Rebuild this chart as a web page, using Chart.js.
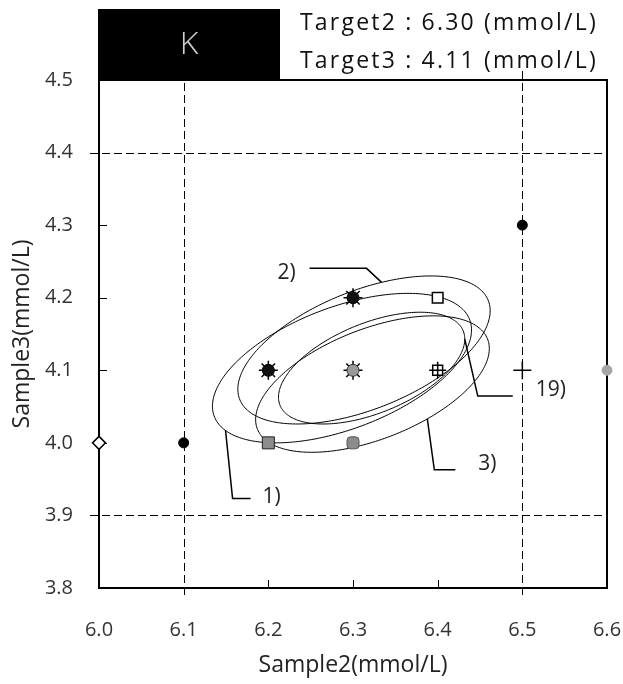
<!DOCTYPE html>
<html>
<head>
<meta charset="utf-8">
<script src="https://cdn.jsdelivr.net/npm/chart.js@4.4.1/dist/chart.umd.min.js"></script>
<style>
  html, body { margin: 0; padding: 0; background: #fff; }
  #wrap { width: 623px; height: 684px; }
</style>
</head>
<body>
<div id="wrap"><canvas id="youdenChart" width="623" height="684"></canvas></div>
<script>
// analyte and targets
const analyte = "K";
const targetNames = ["Target2", "Target3"];
const targetValues = [6.30, 4.11];
const unit = "(mmol/L)";

// axis ticks
const xTickValues = [6.0, 6.1, 6.2, 6.3, 6.4, 6.5, 6.6];
const yTickValues = [3.8, 3.9, 4.0, 4.1, 4.2, 4.3, 4.4, 4.5];
const dashedX = [6.1, 6.5];
const dashedY = [4.4, 3.9];
const innerTickX = [6.2, 6.3, 6.4];
const innerTickY = [4.0, 4.1, 4.2, 4.3];

// lab results (sample2 vs sample3)
const labSample2 = [6.0, 6.1, 6.5, 6.6, 6.5, 6.2, 6.3, 6.3, 6.4, 6.4, 6.2, 6.3];
const labSample3 = [4.0, 4.0, 4.3, 4.1, 4.1, 4.1, 4.2, 4.1, 4.2, 4.1, 4.0, 4.0];
const labSymbol = ["diamond", "dot", "dot", "greyDot", "plus", "burst", "burst",
                   "greyBurst", "square", "hashSquare", "greySquare", "greyRound"];

// confidence ellipses (centre, spread, correlation)
const ellipseNames = ["1)", "2)", "3)", "19)"];
const ellipseCx = [6.287, 6.313, 6.323, 6.322];
const ellipseCy = [4.103, 4.128, 4.081, 4.103];
const ellipseSx = [0.153, 0.149, 0.138, 0.110];
const ellipseSy = [0.103, 0.102, 0.094, 0.077];
const ellipseR  = [0.51, 0.53, 0.52, 0.52];

(function () {
  const FONT = "'Open Sans', 'DejaVu Sans', sans-serif";

  // marker look per symbol; later layers are drawn on top
  const symbolLayers = {
    diamond:    [{ ps: "rectRot", r: 6.5, bg: "#fff", bc: "#000", bw: 1.5 }],
    dot:        [{ ps: "circle", r: 5, bg: "#000", bc: "#000", bw: 1 }],
    greyDot:    [{ ps: "circle", r: 5, bg: "#a5a5a5", bc: "#a5a5a5", bw: 1 }],
    plus:       [{ ps: "cross", r: 9, bg: "#000", bc: "#000", bw: 1.5 }],
    burst:      [{ ps: "star", r: 9.5, bg: "#000", bc: "#000", bw: 1.5 },
                 { ps: "circle", r: 6, bg: "#111", bc: "#000", bw: 1 }],
    greyBurst:  [{ ps: "star", r: 9.5, bg: "#000", bc: "#000", bw: 1.5 },
                 { ps: "circle", r: 6, bg: "#999", bc: "#333", bw: 1 }],
    square:     [{ ps: "rect", r: 7.5, bg: "#fff", bc: "#000", bw: 1.5 }],
    hashSquare: [{ ps: "rect", r: 7, bg: "#fff", bc: "#000", bw: 1.5 },
                 { ps: "cross", r: 8.5, bg: "#000", bc: "#000", bw: 1.5 }],
    greySquare: [{ ps: "rect", r: 8.5, bg: "#8c8c8c", bc: "#222", bw: 1 }],
    greyRound:  [{ ps: "rectRounded", r: 7, bg: "#8c8c8c", bc: "#555", bw: 1 }],
  };

  // where each ellipse's caption leader starts (angle on ellipse) and bends (px)
  const leaderLayout = [
    { t: 206, bend: [7, 68], end: [25, 68], text: [46, 66] },
    { t: 82, bend: [-15, -14], end: [-72, -14], text: [-95, -9] },
    { t: 298, bend: [7, 51], end: [28, 51], text: [60, 45] },
    { t: 0, bend: [13, 57], end: [48, 57], text: [86, 51] },
  ];

  function buildDatasets() {
    const sets = [];
    Object.keys(symbolLayers).forEach((sym) => {
      const pts = [];
      labSymbol.forEach((s, i) => {
        if (s === sym) pts.push({ x: labSample2[i], y: labSample3[i] });
      });
      symbolLayers[sym].forEach((l, li) => {
        sets.push({
          data: pts,
          showLine: false,
          pointStyle: l.ps,
          pointRadius: l.r,
          pointBackgroundColor: l.bg,
          pointBorderColor: l.bc,
          pointBorderWidth: l.bw,
          clip: false,
          order: 5 - li,
        });
      });
    });
    return sets;
  }

  function ellipsePoint(i, deg) {
    const t = (deg * Math.PI) / 180;
    const r = ellipseR[i];
    return {
      x: ellipseCx[i] + ellipseSx[i] * Math.cos(t),
      y: ellipseCy[i] + ellipseSy[i] * (r * Math.cos(t) + Math.sqrt(1 - r * r) * Math.sin(t)),
    };
  }

  const youdenDecor = {
    id: "youdenDecor",
    beforeDatasetsDraw(chart) {
      const { ctx, chartArea: a, scales } = chart;
      const xs = scales.x, ys = scales.y;
      const line = (x1, y1, x2, y2) => {
        ctx.beginPath(); ctx.moveTo(x1, y1); ctx.lineTo(x2, y2); ctx.stroke();
      };
      ctx.save();
      ctx.strokeStyle = "#000";
      ctx.lineWidth = 1;
      ctx.setLineDash([8, 4]);
      dashedX.forEach((v) => {
        const px = Math.round(xs.getPixelForValue(v)) + 0.5;
        line(px, a.top - 9, px, a.bottom + 9);
      });
      dashedY.forEach((v) => {
        const py = Math.round(ys.getPixelForValue(v)) + 0.5;
        line(a.left - 9, py, a.right, py);
      });
      ctx.setLineDash([]);
      innerTickX.forEach((v) => {
        const px = Math.round(xs.getPixelForValue(v)) + 0.5;
        line(px, a.bottom, px, a.bottom - 8);
      });
      innerTickY.forEach((v) => {
        const py = Math.round(ys.getPixelForValue(v)) + 0.5;
        line(a.left, py, a.left + 8, py);
      });
      ctx.lineWidth = 2;
      ctx.strokeRect(a.left, a.top, a.right - a.left, a.bottom - a.top);

      // header box + targets
      ctx.fillStyle = "#000";
      ctx.fillRect(a.left - 1, 9, 182, a.top - 9);
      ctx.fillStyle = "#d0d0d0";
      ctx.font = "300 32px " + FONT;
      ctx.textAlign = "center";
      ctx.textBaseline = "middle";
      ctx.fillText(analyte, a.left + 90, 45);
      ctx.fillStyle = "#111";
      ctx.font = "23px " + FONT;
      ctx.textAlign = "left";
      ctx.letterSpacing = "2.2px";
      targetNames.forEach((n, i) => {
        ctx.fillText(n + " : " + targetValues[i].toFixed(2) + " " + unit, 300, 23 + i * 38);
      });
      ctx.letterSpacing = "0px";

      // ellipses
      ctx.lineWidth = 1;
      ctx.strokeStyle = "#000";
      ellipseNames.forEach((name, i) => {
        ctx.beginPath();
        for (let k = 0; k <= 240; k++) {
          const p = ellipsePoint(i, (k / 240) * 360);
          const px = xs.getPixelForValue(p.x), py = ys.getPixelForValue(p.y);
          if (k === 0) ctx.moveTo(px, py); else ctx.lineTo(px, py);
        }
        ctx.closePath();
        ctx.stroke();

        const lay = leaderLayout[i];
        const p = ellipsePoint(i, lay.t);
        const ax = xs.getPixelForValue(p.x), ay = ys.getPixelForValue(p.y);
        ctx.lineWidth = 1.5;
        ctx.beginPath();
        ctx.moveTo(ax, ay);
        ctx.lineTo(ax + lay.bend[0], ay + lay.bend[1]);
        ctx.lineTo(ax + lay.end[0], ay + lay.end[1]);
        ctx.stroke();
        ctx.lineWidth = 1;
        ctx.fillStyle = "#222";
        ctx.font = "21px " + FONT;
        ctx.textAlign = "center";
        ctx.fillText(name, ax + lay.text[0], ay + lay.text[1]);
      });
      ctx.restore();
    },
  };

  function initChart() {
    const tickFont = { family: FONT, size: 20 };
    const titleFont = { family: FONT, size: 23 };
    new Chart(document.getElementById("youdenChart"), {
      type: "scatter",
      data: { datasets: buildDatasets() },
      options: {
        responsive: false,
        animation: false,
        events: [],
        layout: { autoPadding: false, padding: { top: 80, right: 16, left: 0, bottom: 0 } },
        plugins: { legend: { display: false }, tooltip: { enabled: false } },
        scales: {
          x: {
            type: "linear",
            min: 6.0,
            max: 6.6,
            afterBuildTicks: (s) => { s.ticks = xTickValues.map((v) => ({ value: v })); },
            afterFit: (s) => { s.height = 96; s.paddingLeft = 0; s.paddingRight = 0; },
            grid: { display: false, drawTicks: false },
            border: { display: false },
            ticks: { font: tickFont, color: "#333", padding: 30, maxRotation: 0, callback: (v) => v.toFixed(1) },
            title: { display: true, text: "Sample2(mmol/L)", font: titleFont, color: "#222", padding: { top: 0, bottom: 5 } },
          },
          y: {
            type: "linear",
            min: 3.8,
            max: 4.5,
            afterBuildTicks: (s) => { s.ticks = yTickValues.map((v) => ({ value: v })); },
            afterFit: (s) => { s.width = 99; s.paddingTop = 0; s.paddingBottom = 0; },
            grid: { display: false, drawTicks: false },
            border: { display: false },
            ticks: { font: tickFont, color: "#333", padding: 26, callback: (v) => v.toFixed(1) },
            title: { display: true, text: "Sample3(mmol/L)", font: titleFont, color: "#222", padding: { top: 9, bottom: 0 } },
          },
        },
      },
      plugins: [youdenDecor],
    });
  }

  if (document.readyState === "loading")
    document.addEventListener("DOMContentLoaded", initChart);
  else initChart();
})();
</script>
</body>
</html>
